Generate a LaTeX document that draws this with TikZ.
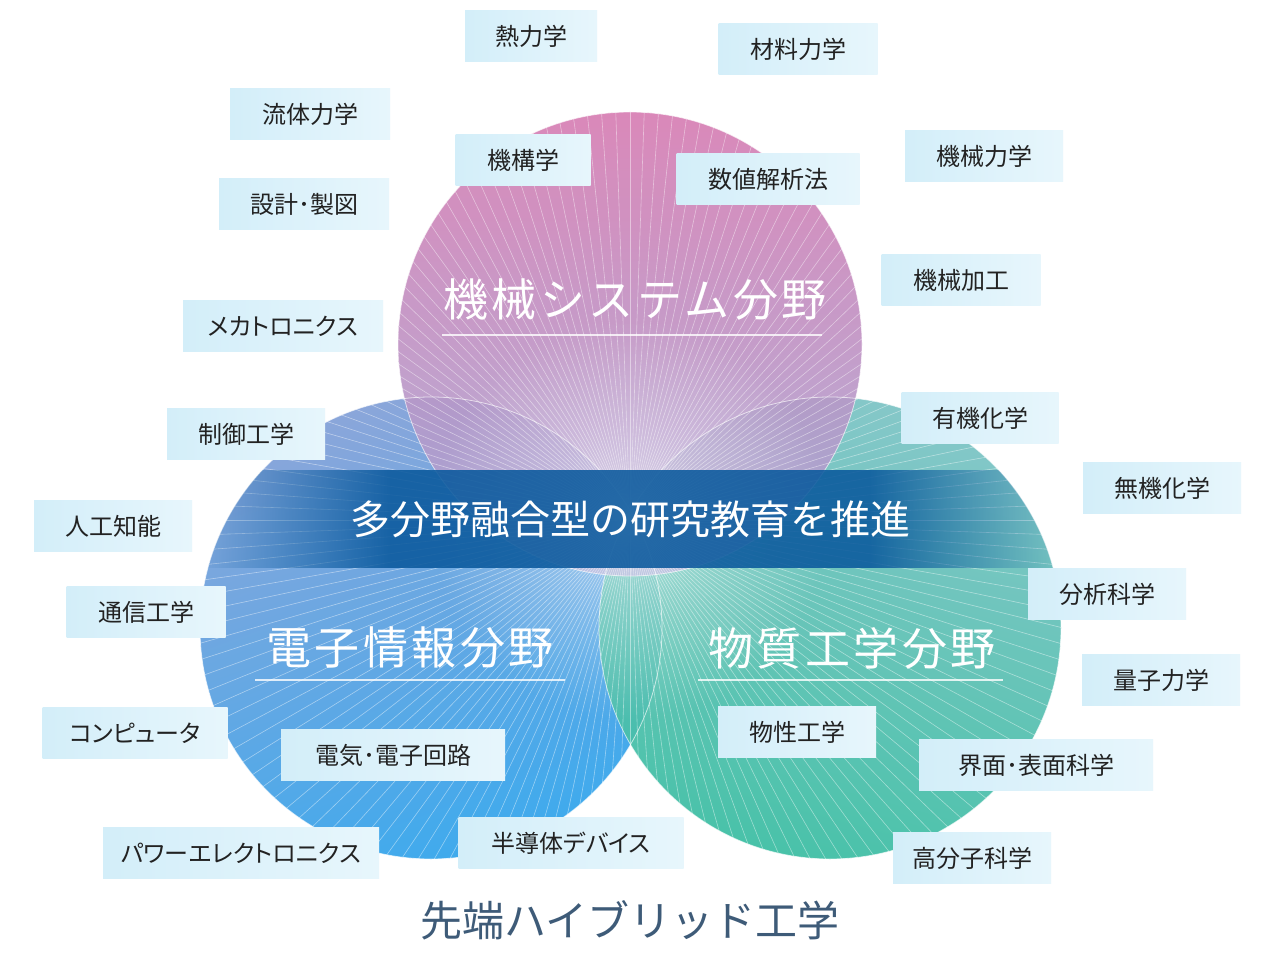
\documentclass[tikz,border=0pt]{standalone}
\usepackage{fontspec}
\setmainfont{Noto Sans CJK JP}
\newfontfamily\tagfont[RawFeature=+palt]{Noto Sans CJK JP}
\newfontfamily\titlefont[LetterSpace=8]{Noto Sans CJK JP}
\usetikzlibrary{fadings}
\definecolor{fieldpink}{HTML}{D67CB2}
\definecolor{fieldlilac}{HTML}{A8A9D6}
\definecolor{fieldsky}{HTML}{84A2D9}
\definecolor{fieldblue}{HTML}{34A6EC}
\definecolor{fieldmint}{HTML}{7FC4C6}
\definecolor{fieldteal}{HTML}{40BFA5}
\definecolor{bandblue}{HTML}{0A599D}
\definecolor{tagblue}{HTML}{D3EEF9}
\definecolor{taglight}{HTML}{E7F6FC}
\definecolor{tagtext}{HTML}{222222}
\definecolor{captionblue}{HTML}{3E5B78}

\tikzfading[name=glowfade, inner color=transparent!55, outer color=transparent!100]
\tikzfading[name=bandin, left color=transparent!100, right color=transparent!0]
\tikzfading[name=bandout, left color=transparent!0, right color=transparent!100]

\begin{document}
\begin{tikzpicture}[x=1pt,y=-1pt,
  tag/.style={left color=tagblue, right color=taglight, text=tagtext,
    font=\tagfont\fontsize{24}{28}\selectfont, minimum height=51pt, inner sep=0pt},
  fieldtitle/.style={text=white, font=\titlefont\fontsize{45}{50}\selectfont},
  underline/.style={white, opacity=0.8, line width=1.2pt},
  rim/.style={white, opacity=0.65, line width=0.8pt}]
\useasboundingbox[fill=white] (0,0) rectangle (1280,960);

% Field circles
\coordinate (mech) at (630,344);
\coordinate (elec) at (431,628);
\coordinate (matl) at (830,628);
\coordinate (hub) at (630,520);
\shade[top color=fieldsky, bottom color=fieldblue, shading angle=20, opacity=0.95] (elec) circle[radius=231pt];
\shade[top color=fieldmint, bottom color=fieldteal, shading angle=-15, opacity=0.95] (matl) circle[radius=231pt];
\shade[top color=fieldpink, bottom color=fieldlilac, opacity=0.9] (mech) circle[radius=232pt];
\fill[white, path fading=glowfade] (hub) circle[radius=200pt];

% Sunburst lines
\begin{scope}
  \clip (mech) circle[radius=232pt] (elec) circle[radius=231pt] (matl) circle[radius=231pt];
  \foreach \a in {0,2,...,358} {
    \draw[white, opacity=0.45, line width=0.6pt] (hub) -- ++(\a:700pt);
  }
\end{scope}
\draw[rim] (mech) circle[radius=232pt];
\draw[rim] (elec) circle[radius=231pt];
\draw[rim] (matl) circle[radius=231pt];

% Central band
\begin{scope}
  \clip (mech) circle[radius=232pt] (elec) circle[radius=231pt] (matl) circle[radius=231pt];
  \fill[bandblue, opacity=0.88, path fading=bandin] (195,470) rectangle (390,568);
  \fill[bandblue, opacity=0.88] (390,470) rectangle (870,568);
  \fill[bandblue, opacity=0.88, path fading=bandout] (870,470) rectangle (1065,568);
\end{scope}
\node[text=white, font=\fontsize{40}{44}\selectfont] (motto) at (630,519) {多分野融合型の研究教育を推進};

% Field titles
\node[fieldtitle] (mechname) at (635,300) {機械システム分野};
\node[fieldtitle] (elecname) at (410,648) {電子情報分野};
\node[fieldtitle] (matlname) at (852,648) {物質工学分野};
\draw[underline] (442,335) -- (822,335);
\draw[underline] (255,680) -- (565,680);
\draw[underline] (698,680) -- (1003,680);

% Subject tags
\foreach \x/\y/\w/\txt [count=\i] in {
    531/36/132/熱力学, 798/49/159/材料力学, 310/114/160/流体力学,
    523/160/135/機構学, 768/179/183/数値解析法, 984/156/158/機械力学,
    304/204/170/設計･製図, 961/280/159/機械加工, 283/326/200/メカトロニクス,
    246/434/158/制御工学, 980/418/157/有機化学, 1162/488/158/無機化学,
    113/526/158/人工知能, 146/612/159/通信工学, 1107/594/158/分析科学,
    1161/680/158/量子力学, 135/733/185/コンピュータ, 393/755/224/電気･電子回路,
    797/732/158/物性工学, 1036/765/234/界面･表面科学, 571/843/225/半導体デバイス,
    241/853/276/パワーエレクトロニクス, 972/858/158/高分子科学} {
  \node[tag, minimum width=\w pt] (tag\i) at (\x,\y) {\txt};
}

% Caption
\node[text=captionblue, font=\fontsize{42}{46}\selectfont] (caption) at (630,920) {先端ハイブリッド工学};
\end{tikzpicture}
\end{document}
